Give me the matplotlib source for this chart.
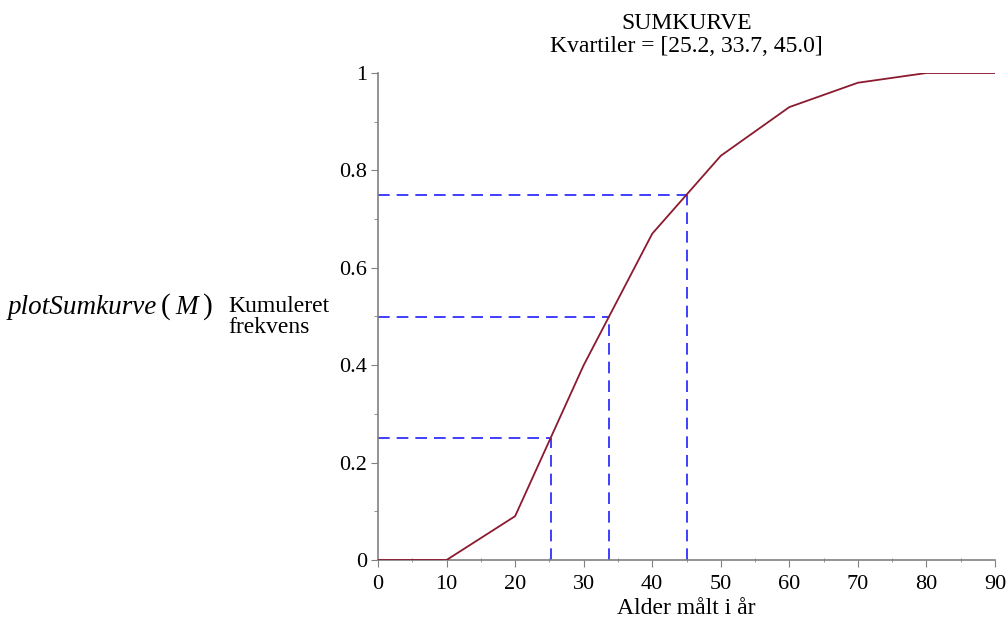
import numpy as np
import matplotlib.pyplot as plt

plt.rcParams['font.family'] = ['Liberation Serif', 'DejaVu Serif']

alder = [0, 10, 20, 30, 40, 50, 60, 70, 80, 90]
kumfrek = [0, 0, 0.09, 0.40, 0.67, 0.83, 0.93, 0.98, 1.0, 1.0]
kvartiler = [25.2, 33.7, 45.0]
niveauer = [0.25, 0.5, 0.75]

fig = plt.figure(figsize=(10.08, 6.22), dpi=100)
ax = fig.add_axes([378 / 1008, 1 - 560 / 622, 617 / 1008, 487 / 622])

ax.plot(alder, kumfrek, color='#8b1a2e', lw=1.3, zorder=3)
for q, n in zip(kvartiler, niveauer):
    ax.plot([0, q], [n, n], color='#1f1fff', lw=1.2, dashes=(7, 4.2))
    ax.plot([q, q], [0, n], color='#1f1fff', lw=1.2, dashes=(7, 4.2))

ax.set_xlim(0, 90)
ax.set_ylim(0, 1)
ax.set_xticks(range(0, 91, 10))
ax.set_xticks(range(5, 91, 10), minor=True)
ax.set_yticks([0, 0.2, 0.4, 0.6, 0.8, 1])
ax.set_yticklabels(['0', '0.2', '0.4', '0.6', '0.8', '1'])
ax.set_yticks(np.arange(0.1, 1, 0.2), minor=True)
for s in ['top', 'right']:
    ax.spines[s].set_visible(False)
for s in ['left', 'bottom']:
    ax.spines[s].set_color('#808080')
    ax.spines[s].set_linewidth(1.2)
ax.tick_params(which='both', colors='#808080', labelcolor='black', labelsize=16)
ax.tick_params(which='major', length=5, pad=3)
ax.tick_params(axis='x', which='major', pad=6)
ax.tick_params(which='minor', length=3)
ax.tick_params(axis='x', which='minor', direction='inout')

ax.set_xlabel('Alder målt i år', fontsize=17, labelpad=3)
ax.set_title('SUMKURVE\nKvartiler = [25.2, 33.7, 45.0]', fontsize=17, pad=15, linespacing=1.15)

fig.text(228 / 1008, 1 - 317 / 622, 'Kumuleret\nfrekvens', fontsize=17, va='center', ha='left', linespacing=1.05)

# plotSumkurve(M) placed piece by piece
renderer = fig.canvas.get_renderer()
x = 8
for stykke, stil, str_, mellemrum in [('plotSumkurve', 'italic', 19.5, 3), ('(', 'normal', 21, 5),
                                      ('M', 'italic', 19.5, 5), (')', 'normal', 21, 0)]:
    t = fig.text(x / 1008, 1 - 307 / 622, stykke, fontsize=str_, style=stil, va='center', ha='left')
    x += t.get_window_extent(renderer).width + mellemrum

fig.savefig('out.png', dpi=100)
